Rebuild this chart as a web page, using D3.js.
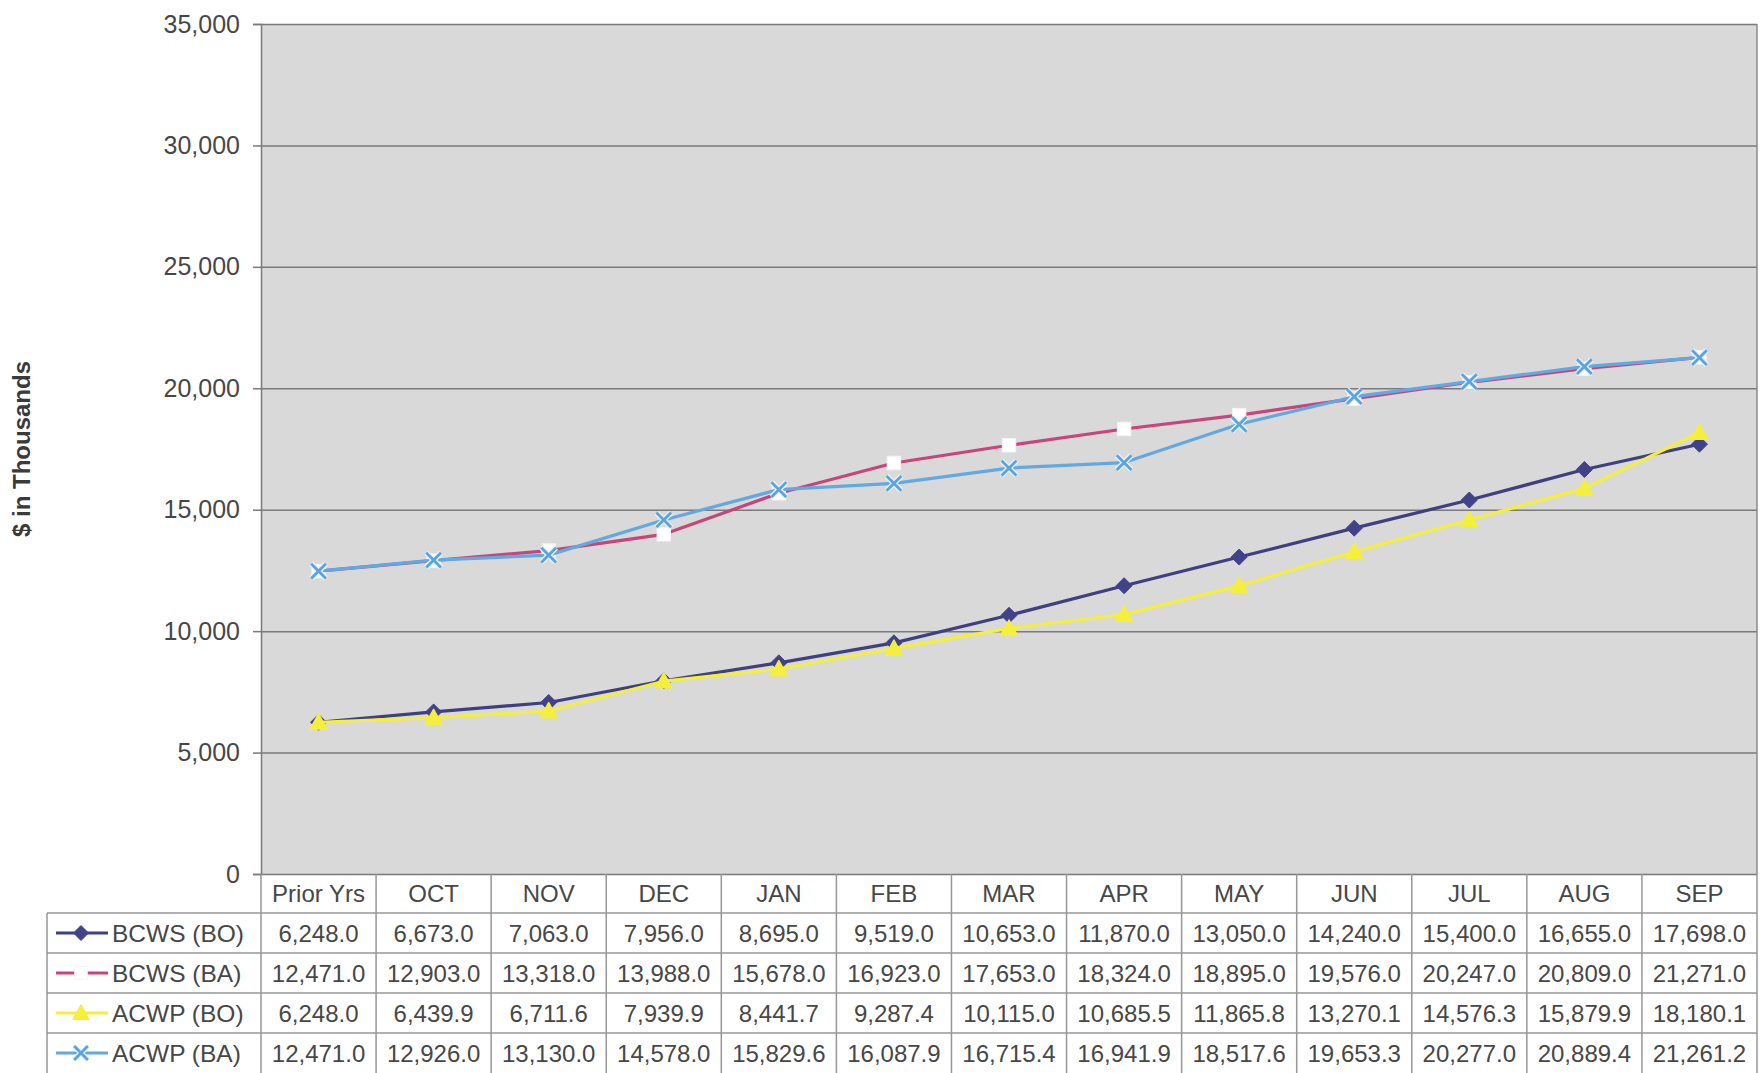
<!DOCTYPE html>
<html>
<head>
<meta charset="utf-8">
<script src="https://cdn.jsdelivr.net/npm/d3@7"></script>
<style>
  html, body { margin: 0; padding: 0; background: #ffffff; }
  svg { display: block; font-family: "Liberation Sans", Arial, sans-serif; }
</style>
</head>
<body>
<svg id="chart" width="1763" height="1073"></svg>
<script>
// ---- Data ----
const categories = ["Prior Yrs", "OCT", "NOV", "DEC", "JAN", "FEB", "MAR", "APR", "MAY", "JUN", "JUL", "AUG", "SEP"];
const bcwsBO = [6248.0, 6673.0, 7063.0, 7956.0, 8695.0, 9519.0, 10653.0, 11870.0, 13050.0, 14240.0, 15400.0, 16655.0, 17698.0];
const bcwsBA = [12471.0, 12903.0, 13318.0, 13988.0, 15678.0, 16923.0, 17653.0, 18324.0, 18895.0, 19576.0, 20247.0, 20809.0, 21271.0];
const acwpBO = [6248.0, 6439.9, 6711.6, 7939.9, 8441.7, 9287.4, 10115.0, 10685.5, 11865.8, 13270.1, 14576.3, 15879.9, 18180.1];
const acwpBA = [12471.0, 12926.0, 13130.0, 14578.0, 15829.6, 16087.9, 16715.4, 16941.9, 18517.6, 19653.3, 20277.0, 20889.4, 21261.2];
const seriesNames = ["BCWS (BO)", "BCWS (BA)", "ACWP (BO)", "ACWP (BA)"];
const yTicks = [0, 5000, 10000, 15000, 20000, 25000, 30000, 35000];
const yTitle = "$ in Thousands";

// ---- Styles ----
const styles = [
  { line: "#3f3f82", marker: "diamond", fill: "#42428a", stroke: "#42428a" },
  { line: "#c8457c", marker: "square", fill: "#ffffff", stroke: "#ffffff" },
  { line: "#f3ef3c", marker: "triangle", fill: "#f3ef3c", stroke: "#f3ef3c" },
  { line: "#62a9e2", marker: "x", fill: "none", stroke: "#5aa4e0" }
];
const seriesData = [bcwsBO, bcwsBA, acwpBO, acwpBA];

const svg = d3.select("#chart");
const plot = { left: 261, right: 1757, top: 24, bottom: 874 };
const tableRows = [913, 953, 993, 1033, 1073];
const legendLeft = 47;
const textColor = "#474747";
const borderColor = "#979797";

const x = d3.scaleBand().domain(categories).range([plot.left, plot.right]).padding(0);
const y = d3.scaleLinear().domain([0, 35000]).range([plot.bottom, plot.top]);

// plot background
svg.append("rect")
  .attr("x", plot.left).attr("y", plot.top)
  .attr("width", plot.right - plot.left).attr("height", plot.bottom - plot.top)
  .attr("fill", "#d9d9d9");

// y axis with gridlines
const yAxis = d3.axisLeft(y).tickValues(yTicks).tickFormat(d3.format(",")).tickSizeOuter(0).tickSize(8).tickPadding(13);
const gy = svg.append("g").attr("transform", `translate(${plot.left},0)`).call(yAxis);
gy.select(".domain").attr("stroke", "#7a7a7a").attr("stroke-width", 1.5);
gy.selectAll(".tick line").attr("stroke", "#7a7a7a").attr("stroke-width", 1.5);
gy.selectAll(".tick text").attr("font-size", 25).attr("fill", textColor)
  .attr("font-family", "'Liberation Sans', Arial, sans-serif");

const grid = d3.axisLeft(y).tickValues(yTicks).tickFormat("").tickSize(-(plot.right - plot.left)).tickSizeOuter(0);
const gg = svg.append("g").attr("transform", `translate(${plot.left},0)`).call(grid);
gg.select(".domain").remove();
gg.selectAll(".tick line").attr("stroke", "#7a7a7a").attr("stroke-width", 1.5);

// plot border right
svg.append("line").attr("x1", plot.right).attr("x2", plot.right)
  .attr("y1", plot.top).attr("y2", plot.bottom)
  .attr("stroke", "#8a8a8a").attr("stroke-width", 1.5);

// y title
svg.append("text")
  .attr("transform", `translate(30,${(plot.top + plot.bottom) / 2}) rotate(-90)`)
  .attr("text-anchor", "middle")
  .attr("font-size", 24).attr("font-weight", "bold").attr("fill", "#3a3a3a")
  .text(yTitle);

// marker drawing
function drawMarker(g, type, st, cx, cy, size) {
  const s = size;
  if (type === "diamond") {
    g.append("path").attr("d", `M${cx},${cy - s / 2}L${cx + s / 2},${cy}L${cx},${cy + s / 2}L${cx - s / 2},${cy}Z`)
      .attr("fill", st.fill).attr("stroke", st.stroke).attr("stroke-width", 1);
  } else if (type === "square") {
    const h = s * 0.42;
    g.append("rect").attr("x", cx - h).attr("y", cy - h).attr("width", 2 * h).attr("height", 2 * h)
      .attr("fill", st.fill).attr("stroke", "#f4f4f4").attr("stroke-width", 1);
  } else if (type === "triangle") {
    const h = s * 0.52;
    g.append("path").attr("d", `M${cx},${cy - h}L${cx + h},${cy + h * 0.8}L${cx - h},${cy + h * 0.8}Z`)
      .attr("fill", st.fill).attr("stroke", st.stroke).attr("stroke-width", 1.5).attr("stroke-linejoin", "round");
  } else if (type === "x") {
    const h = s * 0.46;
    g.append("path").attr("d", `M${cx - h},${cy - h}L${cx + h},${cy + h}M${cx - h},${cy + h}L${cx + h},${cy - h}`)
      .attr("stroke", "#eaf2fa").attr("stroke-width", 5.5).attr("fill", "none");
    g.append("path").attr("d", `M${cx - h},${cy - h}L${cx + h},${cy + h}M${cx - h},${cy + h}L${cx + h},${cy - h}`)
      .attr("stroke", st.stroke).attr("stroke-width", 2.8).attr("fill", "none");
  }
}

// series lines + markers
const line = d3.line().x((d, i) => x(categories[i]) + x.bandwidth() / 2).y(d => y(d));
seriesData.forEach((vals, si) => {
  const st = styles[si];
  const g = svg.append("g");
  g.append("path").datum(vals).attr("d", line)
    .attr("fill", "none").attr("stroke", st.line).attr("stroke-width", 3.2).attr("stroke-linejoin", "round");
  vals.forEach((v, i) => drawMarker(g, st.marker, st, x(categories[i]) + x.bandwidth() / 2, y(v), 16));
});

// ---- Data table ----
const tg = svg.append("g");
// horizontal row lines
tableRows.slice(0, 4).forEach(yy => {
  tg.append("line").attr("x1", legendLeft).attr("x2", plot.right).attr("y1", yy).attr("y2", yy)
    .attr("stroke", borderColor).attr("stroke-width", 1.5);
});
// legend column left border
tg.append("line").attr("x1", legendLeft).attr("x2", legendLeft).attr("y1", tableRows[0]).attr("y2", 1073)
  .attr("stroke", borderColor).attr("stroke-width", 1.5);
// vertical column lines
categories.forEach(c => {
  tg.append("line").attr("x1", x(c)).attr("x2", x(c)).attr("y1", plot.bottom).attr("y2", 1073)
    .attr("stroke", borderColor).attr("stroke-width", 1.5);
});
tg.append("line").attr("x1", plot.right).attr("x2", plot.right).attr("y1", plot.bottom).attr("y2", 1073)
  .attr("stroke", borderColor).attr("stroke-width", 1.5);

// header
categories.forEach(c => {
  tg.append("text").attr("x", x(c) + x.bandwidth() / 2).attr("y", (plot.bottom + tableRows[0]) / 2)
    .attr("dy", "0.36em").attr("text-anchor", "middle").attr("font-size", 24).attr("fill", textColor).text(c);
});
// values
const fmt = d3.format(",.1f");
seriesData.forEach((vals, si) => {
  const cy = (tableRows[si] + tableRows[si + 1]) / 2;
  vals.forEach((v, i) => {
    tg.append("text").attr("x", x(categories[i]) + x.bandwidth() / 2).attr("y", cy)
      .attr("dy", "0.36em").attr("text-anchor", "middle").attr("font-size", 24).attr("fill", textColor).text(fmt(v));
  });
  // legend key
  const st = styles[si];
  const lg = tg.append("g");
  lg.append("line").attr("x1", 56).attr("x2", 108).attr("y1", cy).attr("y2", cy)
    .attr("stroke", st.line).attr("stroke-width", 3);
  drawMarker(lg, st.marker, st, 81, cy, 15);
  lg.append("text").attr("x", 112).attr("y", cy).attr("dy", "0.36em")
    .attr("font-size", 24.5).attr("fill", textColor).text(seriesNames[si]);
});
</script>
</body>
</html>
